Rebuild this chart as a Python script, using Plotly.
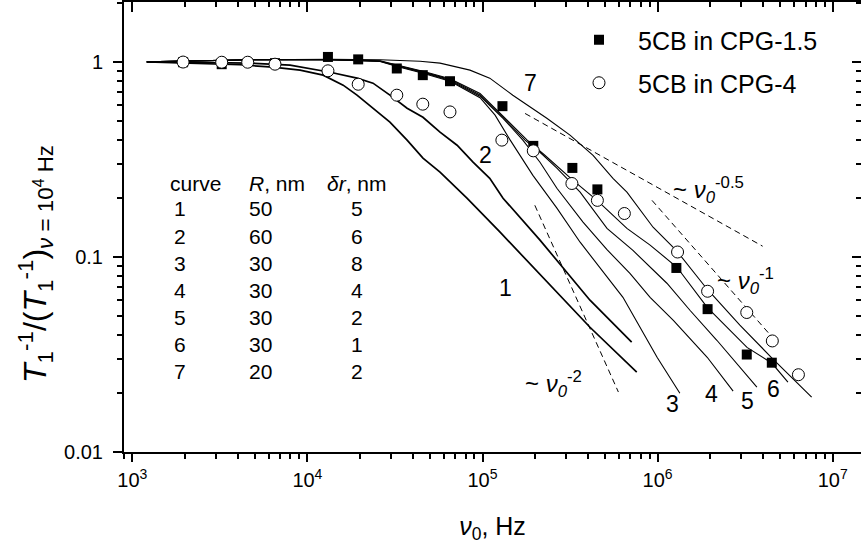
import plotly.graph_objects as go

# ---------------- data ----------------
# measured relaxation rates (normalised at 10^4 Hz)
cpg15_freq = [1.95e3, 3.24e3, 6.53e3, 1.31e4, 1.95e4, 3.24e4, 4.56e4, 6.52e4, 1.30e5,
              1.95e5, 3.26e5, 4.53e5, 1.28e6, 1.93e6, 3.23e6, 4.49e6]
cpg15_rate = [0.996, 0.973, 0.985, 1.06, 1.03, 0.925, 0.855, 0.796, 0.593,
              0.371, 0.286, 0.222, 0.0878, 0.054, 0.0316, 0.0287]

cpg4_freq = [1.95e3, 3.24e3, 4.56e3, 6.53e3, 1.31e4, 1.95e4, 3.24e4, 4.56e4, 6.52e4, 1.29e5,
             1.95e5, 3.24e5, 4.53e5, 6.46e5, 1.30e6, 1.93e6, 3.23e6, 4.52e6, 6.37e6]
cpg4_rate = [0.998, 0.996, 0.996, 0.973, 0.90, 0.768, 0.675, 0.607, 0.554, 0.397,
             0.350, 0.238, 0.195, 0.167, 0.106, 0.0667, 0.0519, 0.0371, 0.0249]

# model curves
curve1_freq = [1.21e3, 2.44e3, 4.12e3, 6.36e3, 9.08e3, 1.23e4, 1.60e4, 1.92e4, 2.37e4, 2.96e4,
               3.71e4, 4.57e4, 5.72e4, 8.15e4, 1.26e5, 4.11e5, 7.60e5]
curve1_rate = [1.0, 0.985, 0.967, 0.939, 0.907, 0.855, 0.760, 0.675, 0.579, 0.491,
               0.397, 0.321, 0.272, 0.200, 0.134, 0.0436, 0.0257]

curve2_freq = [1.21e3, 2.44e3, 4.70e3, 7.96e3, 1.35e4, 1.92e4, 2.37e4, 2.96e4, 3.71e4, 4.57e4,
               5.72e4, 7.16e4, 8.83e4, 1.10e5, 1.31e5, 2.13e5, 4.11e5, 7.11e5]
curve2_rate = [1.0, 0.996, 0.985, 0.962, 0.885, 0.825, 0.778, 0.675, 0.579, 0.520,
               0.436, 0.374, 0.306, 0.253, 0.200, 0.122, 0.0600, 0.0366]

curve3_freq = [1.21e3, 2.44e3, 4.70e3, 1.35e4, 2.60e4, 3.25e4, 4.57e4, 6.53e4, 9.68e4,
               1.18e5, 1.44e5, 1.94e5, 2.66e5, 3.61e5, 4.69e5, 6.34e5, 9.93e5, 1.34e6]
curve3_rate = [1.0, 1.014, 1.026, 1.026, 1.004, 0.948, 0.875, 0.795, 0.655,
               0.533, 0.397, 0.262, 0.178, 0.119, 0.0875, 0.0621, 0.0306, 0.0200]

curve4_freq = [1.21e3, 2.44e3, 4.70e3, 1.35e4, 2.60e4, 3.25e4, 4.57e4, 6.53e4, 9.68e4,
               1.31e5, 1.70e5, 2.13e5, 2.66e5, 3.75e5, 5.14e5, 6.95e5, 9.06e5, 1.23e6, 1.92e6, 2.70e6]
curve4_rate = [1.0, 1.014, 1.026, 1.026, 1.007, 0.953, 0.882, 0.803, 0.667,
               0.514, 0.397, 0.306, 0.225, 0.151, 0.109, 0.0824, 0.0621, 0.0473, 0.0306, 0.0205]

curve5_freq = [1.21e3, 2.44e3, 4.70e3, 1.35e4, 2.60e4, 3.25e4, 4.57e4, 6.53e4, 9.68e4,
               1.31e5, 1.75e5, 2.13e5, 2.66e5, 3.61e5, 5.14e5, 7.23e5, 1.13e6, 1.53e6, 2.18e6, 3.69e6]
curve5_rate = [1.0, 1.014, 1.026, 1.026, 1.010, 0.958, 0.889, 0.811, 0.677,
               0.520, 0.397, 0.344, 0.285, 0.215, 0.140, 0.108, 0.0733, 0.0533, 0.0374, 0.0215]

curve6_freq = [1.21e3, 2.44e3, 4.70e3, 1.35e4, 2.60e4, 3.25e4, 4.57e4, 6.53e4, 9.68e4,
               1.31e5, 1.80e5, 2.27e5, 3.29e5, 4.51e5, 6.68e5, 9.06e5, 1.29e6, 1.92e6, 3.24e6, 4.50e6, 5.55e6]
curve6_rate = [1.0, 1.014, 1.026, 1.026, 1.013, 0.963, 0.896, 0.819, 0.688,
               0.527, 0.397, 0.332, 0.247, 0.195, 0.140, 0.115, 0.0885, 0.0552, 0.0344, 0.0285, 0.0228]

curve7_freq = [1.21e3, 4.70e3, 1.35e4, 2.60e4, 4.40e4, 5.72e4, 8.48e4, 1.10e5, 1.49e5, 2.33e5,
               3.16e5, 4.28e5, 5.56e5, 6.68e5, 9.42e5, 1.29e6, 1.92e6, 2.95e6, 4.50e6, 6.08e6, 7.58e6]
curve7_rate = [1.0, 1.026, 1.032, 1.026, 1.008, 0.985, 0.907, 0.825, 0.675, 0.514,
               0.421, 0.332, 0.253, 0.215, 0.142, 0.107, 0.0683, 0.0447, 0.0303, 0.0231, 0.0191]

# power-law guide lines (end points)
slope05_freq = [1.75e5, 3.98e6]
slope05_rate = [0.544, 0.1135]
slope1_freq = [9.29e5, 4.58e6]
slope1_rate = [0.195, 0.0382]
slope2_freq = [1.99e5, 5.97e5]
slope2_rate = [0.184, 0.0203]

# table of curve parameters
curve_ids = [1, 2, 3, 4, 5, 6, 7]
radius_nm = [50, 60, 30, 30, 30, 30, 20]
shell_nm = [5, 6, 8, 4, 2, 1, 2]

# tick labels
x_tick_vals = [1e3, 1e4, 1e5, 1e6, 1e7]
x_tick_text = ["10<sup>3</sup>", "10<sup>4</sup>", "10<sup>5</sup>", "10<sup>6</sup>", "10<sup>7</sup>"]
y_tick_vals = [0.01, 0.1, 1]
y_tick_text = ["0.01", "0.1", "1"]

# ---------------- layout helpers ----------------
W, H = 861, 548
ML, MR, MT, MB = 124, 0, 2, 96
PW = W - ML - MR
PH = H - MT - MB
FONT = "Liberation Sans, Arial, Helvetica, sans-serif"


def fx(px):
    return (px - ML) / PW


def fy(py):
    return (H - MB - py) / PH


x_minor = [k * 10 ** p for p in range(2, 8) for k in range(2, 10)]
y_minor = [k * 10.0 ** p for p in range(-3, 1) for k in range(2, 10)]
x_range = [2.9526, 7.1616]
y_range = [-2.0, 0.307]

fig = go.Figure()

curves = [
    (curve1_freq, curve1_rate, 1.7),
    (curve2_freq, curve2_rate, 1.7),
    (curve3_freq, curve3_rate, 1.1),
    (curve4_freq, curve4_rate, 1.1),
    (curve5_freq, curve5_rate, 1.1),
    (curve6_freq, curve6_rate, 1.1),
    (curve7_freq, curve7_rate, 1.1),
]
for fr, rt, w in curves:
    fig.add_trace(go.Scatter(x=fr, y=rt, mode="lines", line=dict(color="black", width=w),
                             showlegend=False, hoverinfo="skip"))

for fr, rt in [(slope05_freq, slope05_rate), (slope1_freq, slope1_rate), (slope2_freq, slope2_rate)]:
    fig.add_trace(go.Scatter(x=fr, y=rt, mode="lines",
                             line=dict(color="black", width=1, dash="6px,4px"),
                             showlegend=False, hoverinfo="skip"))

fig.add_trace(go.Scatter(x=cpg15_freq, y=cpg15_rate, mode="markers", name="5CB in CPG-1.5",
                         marker=dict(symbol="square", size=10, color="black",
                                     line=dict(width=0)),
                         legend="legend"))
fig.add_trace(go.Scatter(x=cpg4_freq, y=cpg4_rate, mode="markers", name="5CB in CPG-4",
                         marker=dict(symbol="circle", size=12, color="white",
                                     line=dict(color="black", width=1)),
                         legend="legend2"))
# invisible trace to create the mirrored (top/right) axes
fig.add_trace(go.Scatter(x=[], y=[], xaxis="x2", yaxis="y2", showlegend=False))

axis_common = dict(showgrid=False, zeroline=False, color="black")

fig.update_layout(
    width=W, height=H,
    margin=dict(l=ML, r=MR, t=MT, b=MB, autoexpand=False),
    paper_bgcolor="white", plot_bgcolor="white",
    font=dict(family=FONT, color="black"),
    xaxis=dict(type="log", range=x_range, showline=True, linecolor="black", linewidth=2,
               ticks="outside", ticklen=8, tickwidth=2, tickcolor="black",
               tickvals=x_tick_vals, ticktext=x_tick_text, tickfont=dict(size=20),
               ticklabelstandoff=1,
               minor=dict(ticks="outside", ticklen=5, tickwidth=1.5, tickcolor="black",
                          tickvals=x_minor, showgrid=False),
               title=dict(text="<i>ν</i><sub>0</sub>, Hz", font=dict(size=25), standoff=27),
               automargin=False, **axis_common),
    yaxis=dict(type="log", range=y_range, showline=True, linecolor="black", linewidth=2,
               ticks="outside", ticklen=9, tickwidth=2, tickcolor="black",
               tickvals=y_tick_vals, ticktext=y_tick_text, tickfont=dict(size=20),
               ticklabelstandoff=6,
               minor=dict(ticks="outside", ticklen=5, tickwidth=1.5, tickcolor="black",
                          tickvals=y_minor, showgrid=False),
               automargin=False, **axis_common),
    xaxis2=dict(type="log", range=x_range, overlaying="x", side="top", showline=True,
                linecolor="black", linewidth=2, ticks="inside", ticklen=10, tickwidth=2,
                tickcolor="black", tickvals=x_tick_vals, showticklabels=False,
                minor=dict(ticks="inside", ticklen=5, tickwidth=1.5, tickcolor="black",
                           tickvals=x_minor, showgrid=False),
                automargin=False, **axis_common),
    yaxis2=dict(type="log", range=y_range, overlaying="y", side="right", showline=False,
                ticks="inside", ticklen=9, tickwidth=2, tickcolor="black",
                tickvals=y_tick_vals, showticklabels=False,
                minor=dict(ticks="inside", ticklen=5, tickwidth=1.5, tickcolor="black",
                           tickvals=y_minor, showgrid=False),
                automargin=False, **axis_common),
    legend=dict(x=fx(560), y=fy(40), xanchor="left", yanchor="middle",
                font=dict(size=25), bgcolor="rgba(0,0,0,0)", itemwidth=68,
                borderwidth=0),
    legend2=dict(x=fx(560), y=fy(83), xanchor="left", yanchor="middle",
                 font=dict(size=25), bgcolor="rgba(0,0,0,0)", itemwidth=68,
                 borderwidth=0),
    showlegend=True,
)

annotations = []


def add_text(text, px, py, size, xanchor="center", yanchor="middle", angle=0):
    annotations.append(dict(text=text, x=fx(px), y=fy(py), xref="paper", yref="paper",
                            xanchor=xanchor, yanchor=yanchor, showarrow=False,
                            textangle=angle, font=dict(size=size, family=FONT, color="black")))


# y axis title
add_text("<i>T</i><sub>1</sub><sup>-1</sup>/(<i>T</i><sub>1</sub><sup>-1</sup>)"
         "<sub><i>ν</i> = 10<sup>4</sup> Hz</sub>", 35, 264, 32, angle=-90)

# curve number labels
label_pos = {1: (505, 288), 2: (485, 155), 3: (672, 404), 4: (711, 394),
             5: (747, 401), 6: (773, 389), 7: (530, 83)}
for cid in curve_ids:
    px, py = label_pos[cid]
    add_text(str(cid), px, py, 23)

# parameter table
row_y = [209, 236, 263, 290, 317, 344, 371]
add_text("curve", 168, 183, 21, xanchor="left")
add_text("<i>R</i>, nm", 247, 183, 21, xanchor="left")
add_text("<i>δr</i>, nm", 357, 183, 21)
for i, cid in enumerate(curve_ids):
    add_text(str(cid), 180, row_y[i], 21)
    add_text(str(radius_nm[i]), 247, row_y[i], 21, xanchor="left")
    add_text(str(shell_nm[i]), 357, row_y[i], 21)

# power-law labels
add_text("~ <i>ν</i><sub><i>0</i></sub><sup>-0.5</sup>", 671, 190, 24, xanchor="left")
add_text("~ <i>ν</i><sub><i>0</i></sub><sup>-1</sup>", 715, 281, 24, xanchor="left")
add_text("~ <i>ν</i><sub><i>0</i></sub><sup>-2</sup>", 523, 384, 24, xanchor="left")

fig.update_layout(annotations=annotations)

fig.write_html("out.html", config={"displayModeBar": False},
               post_script="document.body.style.margin='0px';")
